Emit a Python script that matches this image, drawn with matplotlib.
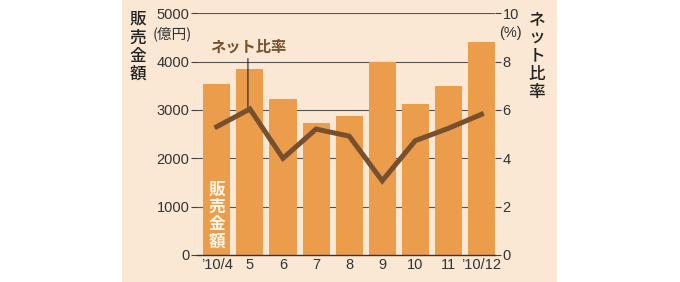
import matplotlib
matplotlib.use("Agg")
import matplotlib.pyplot as plt
from matplotlib.patches import Rectangle

# data
months = ["’10/4", "5", "6", "7", "8", "9", "10", "11", "’10/12"]
sales = [3534, 3845, 3224, 2727, 2878, 4000, 3126, 3505, 4416]   # 億円
net_ratio = [5.31, 6.04, 4.0, 5.21, 4.92, 3.07, 4.73, 5.24, 5.82]  # %
left_ticks = [0, 1000, 2000, 3000, 4000, 5000]
right_ticks = [0, 2, 4, 6, 8, 10]

BG = "#fae8d4"
BAR = "#eb9d4b"
LINE = "#76502f"
TXT = "#333333"
JP = ["Noto Sans CJK JP", "DejaVu Sans"]
NUM = ["Liberation Sans", "DejaVu Sans"]
FS = 10.5

fig = plt.figure(figsize=(6.8, 2.82), dpi=100)
fig.patch.set_facecolor("white")
fig.patches.append(Rectangle((122 / 680, 0), (557 - 122) / 680, 1,
                             transform=fig.transFigure, facecolor=BG,
                             edgecolor="none", zorder=-10))

ax = fig.add_axes([197 / 680, 27 / 282, 298 / 680, 241.7 / 282])
ax.set_facecolor("none")
x = list(range(len(months)))

ax.bar(x, sales, width=0.82, color=BAR, zorder=2)
ax.set_xlim(-0.6, 8.41)
ax.set_ylim(0, 5000)
ax.set_yticks(left_ticks)
ax.set_yticklabels([str(v) for v in left_ticks], family=NUM, fontsize=FS, color=TXT)
ax.set_xticks(x)
ax.set_xticklabels(months, family=NUM, fontsize=FS, color=TXT)
ax.tick_params(axis="x", length=0, pad=2)
ax.tick_params(axis="y", length=4, width=0.8, color="#444444", pad=1.5)
for v in left_ticks[1:]:
    ax.axhline(v, color="#555555", lw=0.8, zorder=1)
for s in ["left", "right", "top"]:
    ax.spines[s].set_visible(False)
ax.spines["bottom"].set_color("#333333")
ax.spines["bottom"].set_linewidth(1.0)
ax.spines["bottom"].set_zorder(5)

ax2 = ax.twinx()
ax2.set_ylim(0, 10)
ax2.set_yticks(right_ticks)
ax2.set_yticklabels([str(v) for v in right_ticks], family=NUM, fontsize=FS, color=TXT)
ax2.tick_params(axis="y", length=4, width=0.8, color="#444444", pad=1.5)
for s in ["left", "right", "top", "bottom"]:
    ax2.spines[s].set_visible(False)
ax2.plot(x, net_ratio, color=LINE, lw=3.6, solid_joinstyle="miter", zorder=4)

# annotation for the line
ax2.annotate("ネット比率", xy=(x[1] - 0.06, net_ratio[1]), xytext=(x[1] - 0.06, 8.3),
             ha="center", va="bottom", family=JP, fontsize=11, fontweight="bold",
             color=LINE, arrowprops=dict(arrowstyle="-", color="#222222", lw=0.8,
                                         shrinkA=1, shrinkB=0))

# axis titles and units
fig.text(138 / 680, 1 - 10 / 282, "販\n売\n金\n額", ha="center", va="top", family=JP,
         fontsize=12, fontweight="medium", color="#222222", linespacing=1.02)
fig.text(192 / 680, 1 - 33.5 / 282, "(億円)", ha="right", va="center", family=JP,
         fontsize=10.5, color=TXT)
fig.text(537 / 680, 1 - 10 / 282, "ネ\nッ\nト\n比\n率", ha="center", va="top", family=JP,
         fontsize=12, fontweight="medium", color="#222222", linespacing=1.02)
fig.text(499 / 680, 1 - 33.5 / 282, "(%)", ha="left", va="center", family=NUM,
         fontsize=FS, color=TXT)
ax.text(x[0], 95, "販\n売\n金\n額", ha="center", va="bottom", family=JP,
        fontsize=12, fontweight="bold", color="#fff6ea", linespacing=0.95, zorder=6)

fig.savefig("out.png", dpi=100, facecolor=fig.get_facecolor())
